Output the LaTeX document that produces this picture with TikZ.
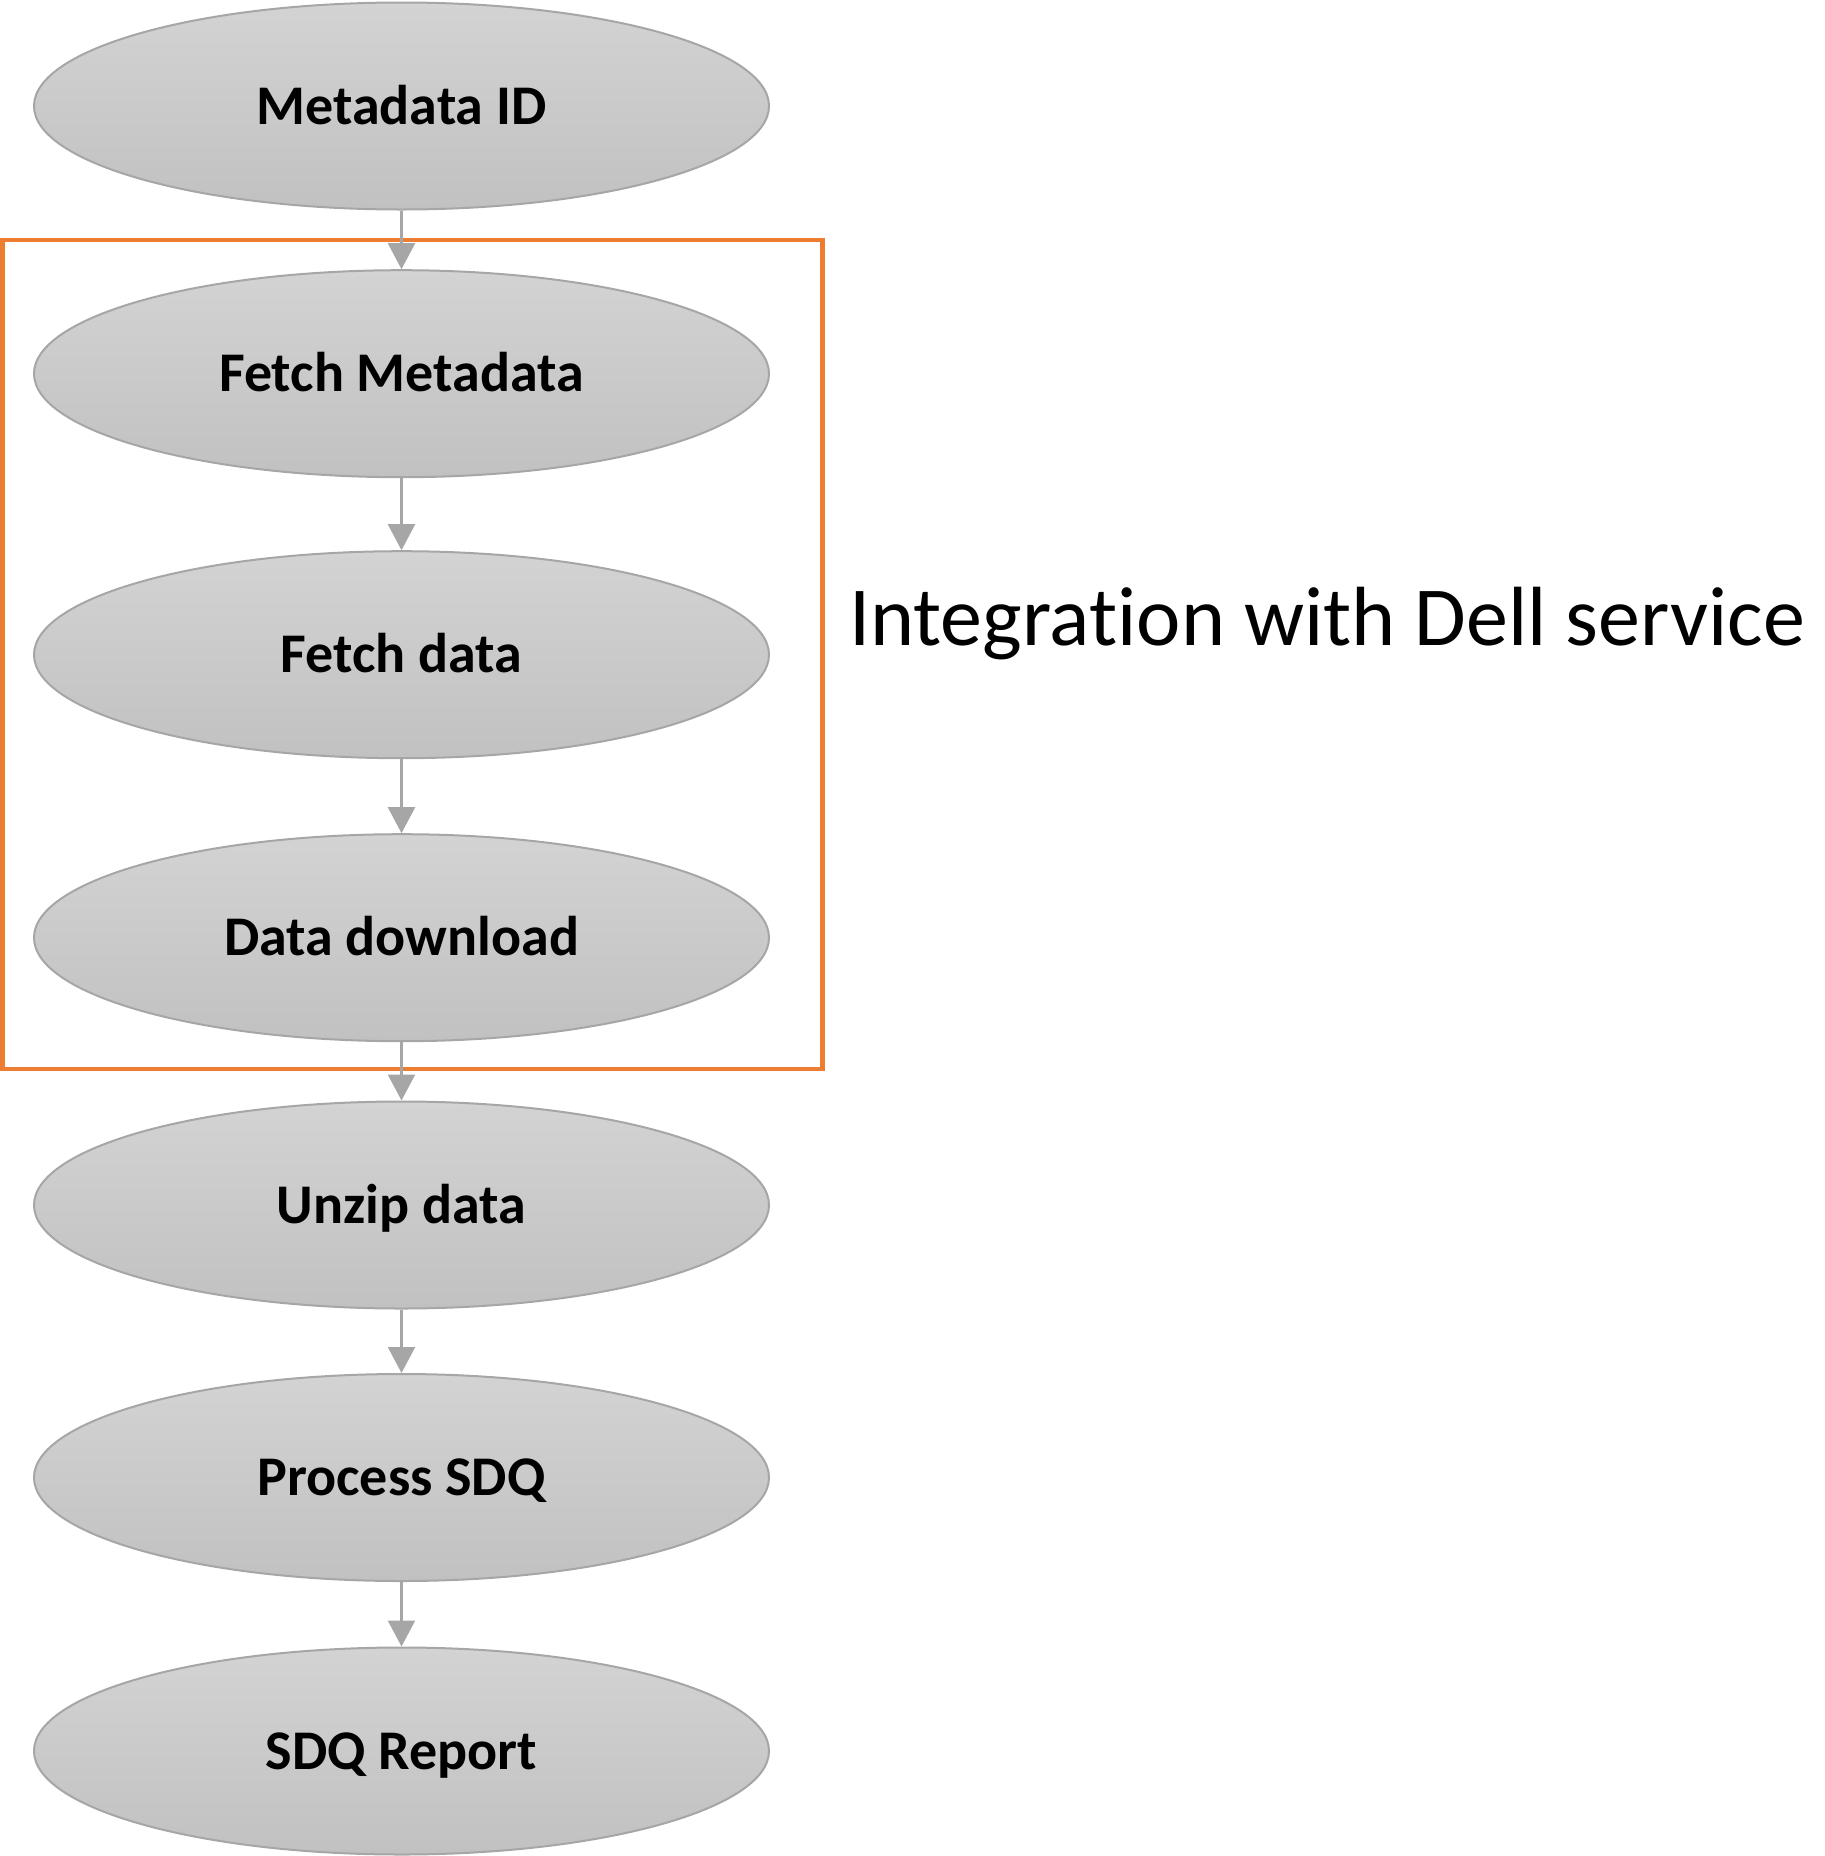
\documentclass[tikz,border=0pt]{standalone}
\usepackage{fontspec}
\setmainfont{Carlito}[Ligatures=NoCommon]
\usepackage{tikz}
\usetikzlibrary{arrows.meta,positioning,shapes.geometric}

\definecolor{stagetop}{HTML}{D3D3D3}
\definecolor{stagebot}{HTML}{C1C1C1}
\definecolor{stageline}{HTML}{A6A6A6}
\definecolor{serviceorange}{HTML}{ED7D31}

\tikzset{
  stage/.style={ellipse,draw=stageline,line width=2pt,
    top color=stagetop,bottom color=stagebot,
    minimum width=735pt,minimum height=207pt,inner sep=0pt,
    font=\fontsize{56}{60}\selectfont\bfseries,
    text height=36pt,text depth=0pt},
  flow/.style={draw=stageline,line width=2.3pt,
    -{Triangle[width=27pt,length=26pt]}},
  servicebox/.style={draw=serviceorange,line width=4.5pt}
}

\begin{document}
\begin{tikzpicture}[x=1pt,y=-1pt]
  \useasboundingbox (0,0) rectangle (1825,1856);

  % box round the part that talks to the service
  \draw[servicebox] (2.5,240) rectangle (822.5,1069);
  \node[anchor=base west,inner sep=0pt,
    font=\fontsize{84}{90}\selectfont] (dell) at (849,645)
    {Integration with Dell service};

  % pipeline stages
  \foreach \name/\y/\txt in {
    metaid/106/Metadata ID, fetchmeta/373.7/Fetch Metadata,
    fetchdata/654.7/Fetch data, download/937.7/Data download,
    unzip/1205/Unzip data, process/1477.5/Process SDQ,
    report/1751/SDQ Report
  }{
    \node[stage] (\name) at (401.5,\y) {\txt};
  }

  \foreach \a/\b in {metaid/fetchmeta, fetchmeta/fetchdata,
    fetchdata/download, download/unzip, unzip/process, process/report} {
    \draw[flow] (\a) -- (\b);
  }

\end{tikzpicture}
\end{document}
